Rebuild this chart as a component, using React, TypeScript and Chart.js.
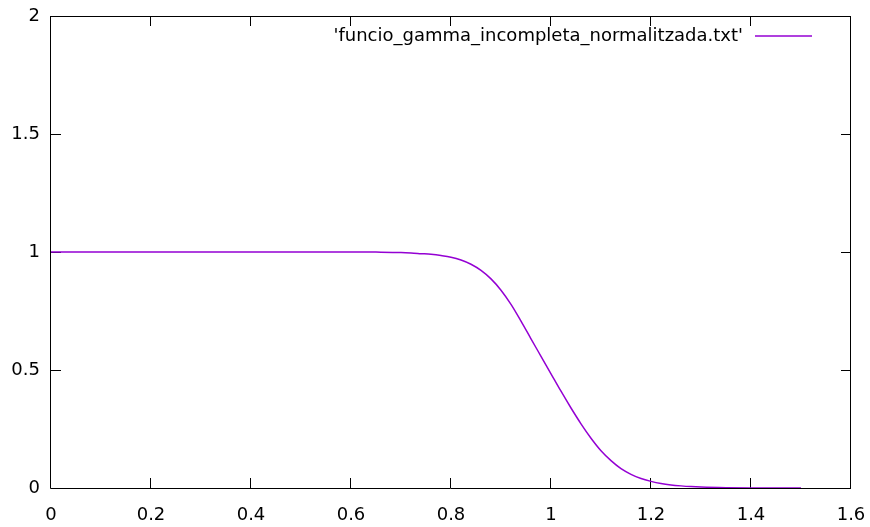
import React, { useEffect, useRef } from "react";
import { Chart, registerables } from "chart.js";

Chart.register(...registerables);

const seriesLabel = "'funcio_gamma_incompleta_normalitzada.txt'";
const xValues = [0, 0.1, 0.2, 0.3, 0.4, 0.5, 0.6, 0.65, 0.7, 0.72, 0.74, 0.76, 0.78, 0.8, 0.82, 0.84, 0.86, 0.88, 0.9, 0.92, 0.94, 0.96, 0.98, 1.0, 1.02, 1.04, 1.06, 1.08, 1.1, 1.12, 1.14, 1.16, 1.18, 1.2, 1.22, 1.24, 1.26, 1.28, 1.3, 1.35, 1.4, 1.45, 1.5];
const yValues = [1, 1, 1, 1, 1, 1, 1, 0.9995, 0.998, 0.996, 0.993, 0.99, 0.985, 0.978, 0.966, 0.948, 0.922, 0.886, 0.838, 0.778, 0.707, 0.632, 0.558, 0.484, 0.41, 0.339, 0.272, 0.211, 0.158, 0.116, 0.082, 0.058, 0.04, 0.028, 0.019, 0.013, 0.009, 0.006, 0.004, 0.0015, 0.0005, 0.0002, 0.0001];
const xTicks = [0, 0.2, 0.4, 0.6, 0.8, 1, 1.2, 1.4, 1.6];
const yTicks = [0, 0.5, 1, 1.5, 2];

const LINE_COLOR = "#9400d3";
const FONT = "DejaVu Sans";
const FONT_SIZE = 18;

const framePlugin = {
  id: "gnuplotFrame",
  beforeDatasetsDraw(chart: any) {
    const { ctx, chartArea, scales } = chart;
    const { left, right, top, bottom } = chartArea;
    const tl = 10;
    ctx.save();
    ctx.strokeStyle = "#000";
    ctx.lineWidth = 1;
    ctx.beginPath();
    ctx.rect(Math.round(left) - 0.5, Math.round(top) + 0.5, Math.round(right - left), Math.round(bottom - top));
    for (const v of xTicks) {
      const px = Math.round(scales.x.getPixelForValue(v)) - 0.5;
      ctx.moveTo(px, bottom);
      ctx.lineTo(px, bottom - tl);
      ctx.moveTo(px, top);
      ctx.lineTo(px, top + tl);
    }
    for (const v of yTicks) {
      const py = Math.round(scales.y.getPixelForValue(v)) + 0.5;
      ctx.moveTo(left, py);
      ctx.lineTo(left + tl, py);
      ctx.moveTo(right, py);
      ctx.lineTo(right - tl, py);
    }
    ctx.stroke();
    ctx.restore();
  },
  afterDraw(chart: any) {
    const { ctx } = chart;
    const ds = chart.data.datasets[0];
    ctx.save();
    ctx.font = `${FONT_SIZE}px "${FONT}"`;
    ctx.fillStyle = "#000";
    ctx.textAlign = "right";
    ctx.textBaseline = "middle";
    const ly = 36;
    ctx.fillText(ds.label, 743, ly);
    ctx.strokeStyle = ds.borderColor;
    ctx.lineWidth = ds.borderWidth;
    ctx.beginPath();
    ctx.moveTo(755, ly);
    ctx.lineTo(812, ly);
    ctx.stroke();
    ctx.restore();
  },
};

export default function App() {
  const ref = useRef<HTMLCanvasElement>(null);
  useEffect(() => {
    const canvas = ref.current!;
    const chart = new Chart(canvas, {
      type: "line",
      data: {
        datasets: [
          {
            label: seriesLabel,
            data: xValues.map((x, i) => ({ x, y: yValues[i] })),
            borderColor: LINE_COLOR,
            backgroundColor: LINE_COLOR,
            borderWidth: 1.5,
            pointRadius: 0,
            cubicInterpolationMode: "monotone",
            fill: false,
          },
        ],
      },
      options: {
        animation: false,
        responsive: false,
        devicePixelRatio: 1,
        layout: { padding: { left: 0, top: 16, right: 19, bottom: 0 } },
        plugins: { legend: { display: false }, tooltip: { enabled: false } },
        scales: {
          x: {
            type: "linear",
            min: 0,
            max: 1.6,
            afterFit(scale: any) {
              scale.height = 39;
              scale.paddingLeft = 0;
              scale.paddingRight = 0;
            },
            afterBuildTicks(scale: any) {
              scale.ticks = xTicks.map((v) => ({ value: v }));
            },
            grid: { display: false, drawTicks: false },
            border: { display: false },
            ticks: {
              padding: 17,
              color: "#000",
              font: { family: FONT, size: FONT_SIZE },
              maxRotation: 0,
              autoSkip: false,
              callback: (v: any) => String(Number(v)),
            },
          },
          y: {
            type: "linear",
            min: 0,
            max: 2,
            afterFit(scale: any) {
              scale.width = 51;
              scale.paddingTop = 0;
              scale.paddingBottom = 0;
            },
            afterBuildTicks(scale: any) {
              scale.ticks = yTicks.map((v) => ({ value: v }));
            },
            grid: { display: false, drawTicks: false },
            border: { display: false },
            ticks: {
              padding: 11,
              color: "#000",
              font: { family: FONT, size: FONT_SIZE },
              autoSkip: false,
              callback: (v: any) => String(Number(v)),
            },
          },
        },
      },
      plugins: [framePlugin],
    } as any);
    return () => chart.destroy();
  }, []);
  return (
    <div style={{ position: "absolute", left: 0, top: 0, width: 870, height: 527, background: "#fff" }}>
      <canvas ref={ref} width={870} height={527} style={{ display: "block" }} />
    </div>
  );
}
